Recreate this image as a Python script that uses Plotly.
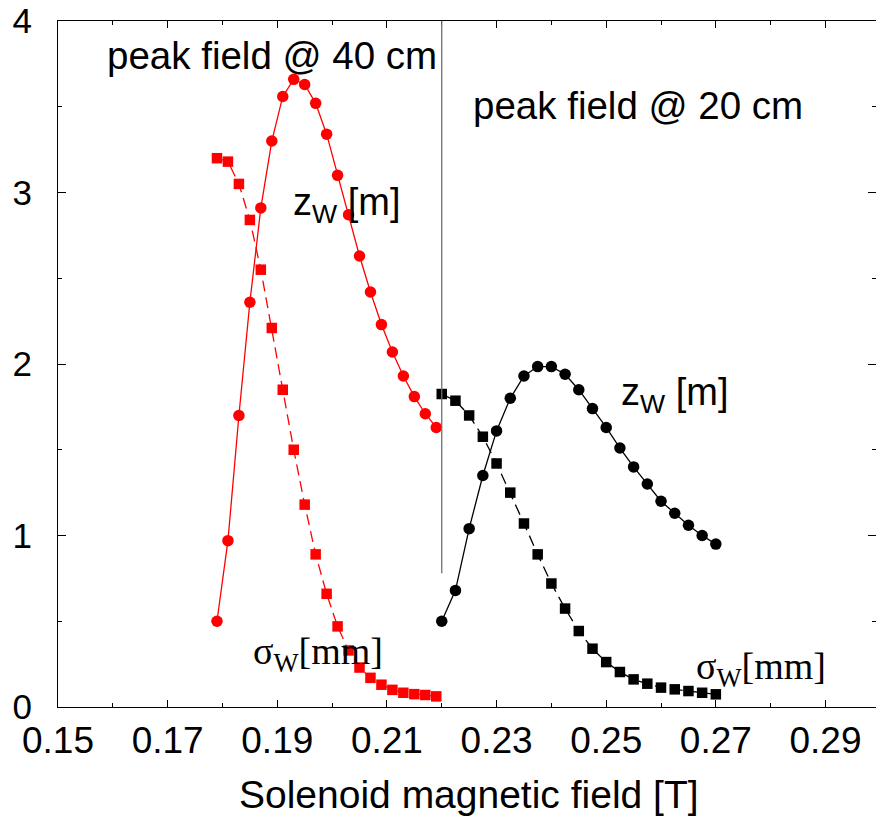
import plotly.graph_objects as go

# ---- data ----
x_40 = [0.179, 0.181, 0.183, 0.185, 0.187, 0.189, 0.191, 0.193, 0.195, 0.197, 0.199,
        0.201, 0.203, 0.205, 0.207, 0.209, 0.211, 0.213, 0.215, 0.217, 0.219]
zw_40 = [0.50, 0.97, 1.70, 2.36, 2.91, 3.30, 3.56, 3.66, 3.63, 3.52, 3.34,
         3.10, 2.87, 2.63, 2.42, 2.23, 2.07, 1.93, 1.81, 1.71, 1.63]
sw_40 = [3.20, 3.18, 3.05, 2.84, 2.55, 2.21, 1.85, 1.50, 1.18, 0.89, 0.66,
         0.47, 0.33, 0.23, 0.17, 0.13, 0.10, 0.083, 0.075, 0.070, 0.062]

x_20 = [0.2200, 0.2225, 0.2250, 0.2275, 0.2300, 0.2325, 0.2350, 0.2375, 0.2400, 0.2425, 0.2450,
        0.2475, 0.2500, 0.2525, 0.2550, 0.2575, 0.2600, 0.2625, 0.2650, 0.2675, 0.2700]
zw_20 = [0.50, 0.68, 1.04, 1.35, 1.61, 1.80, 1.93, 1.985, 1.985, 1.94, 1.85,
         1.74, 1.63, 1.51, 1.40, 1.30, 1.20, 1.13, 1.06, 1.00, 0.95]
sw_20 = [1.825, 1.786, 1.70, 1.576, 1.42, 1.25, 1.07, 0.89, 0.72, 0.574, 0.443,
         0.34, 0.262, 0.204, 0.161, 0.136, 0.113, 0.103, 0.093, 0.083, 0.074]

x_ticks = [0.15, 0.17, 0.19, 0.21, 0.23, 0.25, 0.27, 0.29]
x_ticklabels = ["0.15", "0.17", "0.19", "0.21", "0.23", "0.25", "0.27", "0.29"]
x_minor = [0.16, 0.18, 0.20, 0.22, 0.24, 0.26, 0.28]
y_ticks = [0, 1, 2, 3, 4]
boundary_x = 0.22
boundary_ybottom = 0.78

RED = "#ff0000"
BLACK = "#000000"
SANS = "Liberation Sans, Arial, sans-serif"
SERIF = "Liberation Serif, Times New Roman, serif"

fig = go.Figure()

def add_series(x, y, color, symbol, dash, size):
    fig.add_trace(go.Scatter(
        x=x, y=y, mode="lines+markers",
        line=dict(color=color, width=1.3, dash=dash),
        marker=dict(color=color, symbol=symbol, size=size, line=dict(width=0)),
        showlegend=False, hoverinfo="skip"))

add_series(x_40, zw_40, RED, "circle", "solid", 11.5)
add_series(x_40, sw_40, RED, "square", "11px,6px", 10.5)
add_series(x_20, zw_20, BLACK, "circle", "solid", 11.5)
add_series(x_20, sw_20, BLACK, "square", "11px,6px", 10.5)

# invisible trace on right axis to host right-side ticks
fig.add_trace(go.Scatter(x=[0.15], y=[0], yaxis="y2", mode="markers",
                         marker=dict(opacity=0), showlegend=False, hoverinfo="skip"))

fig.add_shape(type="line", xref="x", yref="y", x0=boundary_x, x1=boundary_x,
              y0=boundary_ybottom, y1=4, line=dict(color="#707070", width=1.3))

ann = [
    ("peak field @ 40 cm", 0.1585, 3.80, SANS, 38.5),
    ("peak field @ 20 cm", 0.2253, 3.51, SANS, 38.5),
    ("z<sub>W</sub> [m]", 0.1925, 2.93, SANS, 38),
    ("z<sub>W</sub> [m]", 0.2524, 1.82, SANS, 38),
    ("σ<sub>W</sub>[mm]", 0.1852, 0.31, SERIF, 38),
    ("σ<sub>W</sub>[mm]", 0.2660, 0.22, SERIF, 38),
]
for txt, xx, yy, fam, sz in ann:
    fig.add_annotation(text=txt, x=xx, y=yy, xref="x", yref="y", xanchor="left",
                       yanchor="middle", showarrow=False,
                       font=dict(family=fam, size=sz, color="black"))

fig.add_annotation(text="Solenoid magnetic field [T]", x=(469 - 58) / (876 - 58), xref="paper",
                   y=-(795 - 707) / (707 - 21), yref="paper", yanchor="middle",
                   showarrow=False, font=dict(family=SANS, size=39, color="black"))

xr = [0.15, 0.15 + (876 - 58.3) / 5480.0]
fig.update_layout(
    width=876, height=816,
    margin=dict(l=58, r=0, t=21, b=109),
    plot_bgcolor="white", paper_bgcolor="white",
    font=dict(family=SANS, color="black"),
    xaxis=dict(range=xr, tickmode="array", tickvals=x_ticks, ticktext=x_ticklabels,
               ticks="inside", ticklen=7, tickwidth=1.2, tickcolor="black",
               showline=True, linecolor="black", linewidth=1.3, mirror="ticks",
               showgrid=False, zeroline=False,
               tickfont=dict(family=SANS, size=37),
               minor=dict(tickvals=x_minor, ticks="inside", ticklen=4,
                          tickcolor="black", tickwidth=1.2)),
    yaxis=dict(range=[0, 4], tickvals=y_ticks, ticks="inside", ticklen=8, tickwidth=1.2,
               tickcolor="black", showline=True, linecolor="black", linewidth=1.3,
               showgrid=False, zeroline=False, ticklabelstandoff=18,
               tickfont=dict(family=SANS, size=35),
               minor=dict(dtick=0.5, ticks="inside", ticklen=4, tickcolor="black", tickwidth=1.2)),
    yaxis2=dict(range=[0, 4], overlaying="y", side="right", tickvals=y_ticks,
                ticks="inside", ticklen=8, tickwidth=1.2, tickcolor="black",
                showticklabels=False, showline=False, showgrid=False, zeroline=False,
                minor=dict(dtick=0.5, ticks="inside", ticklen=4, tickcolor="black", tickwidth=1.2)),
)

fig.write_html("out.html")
